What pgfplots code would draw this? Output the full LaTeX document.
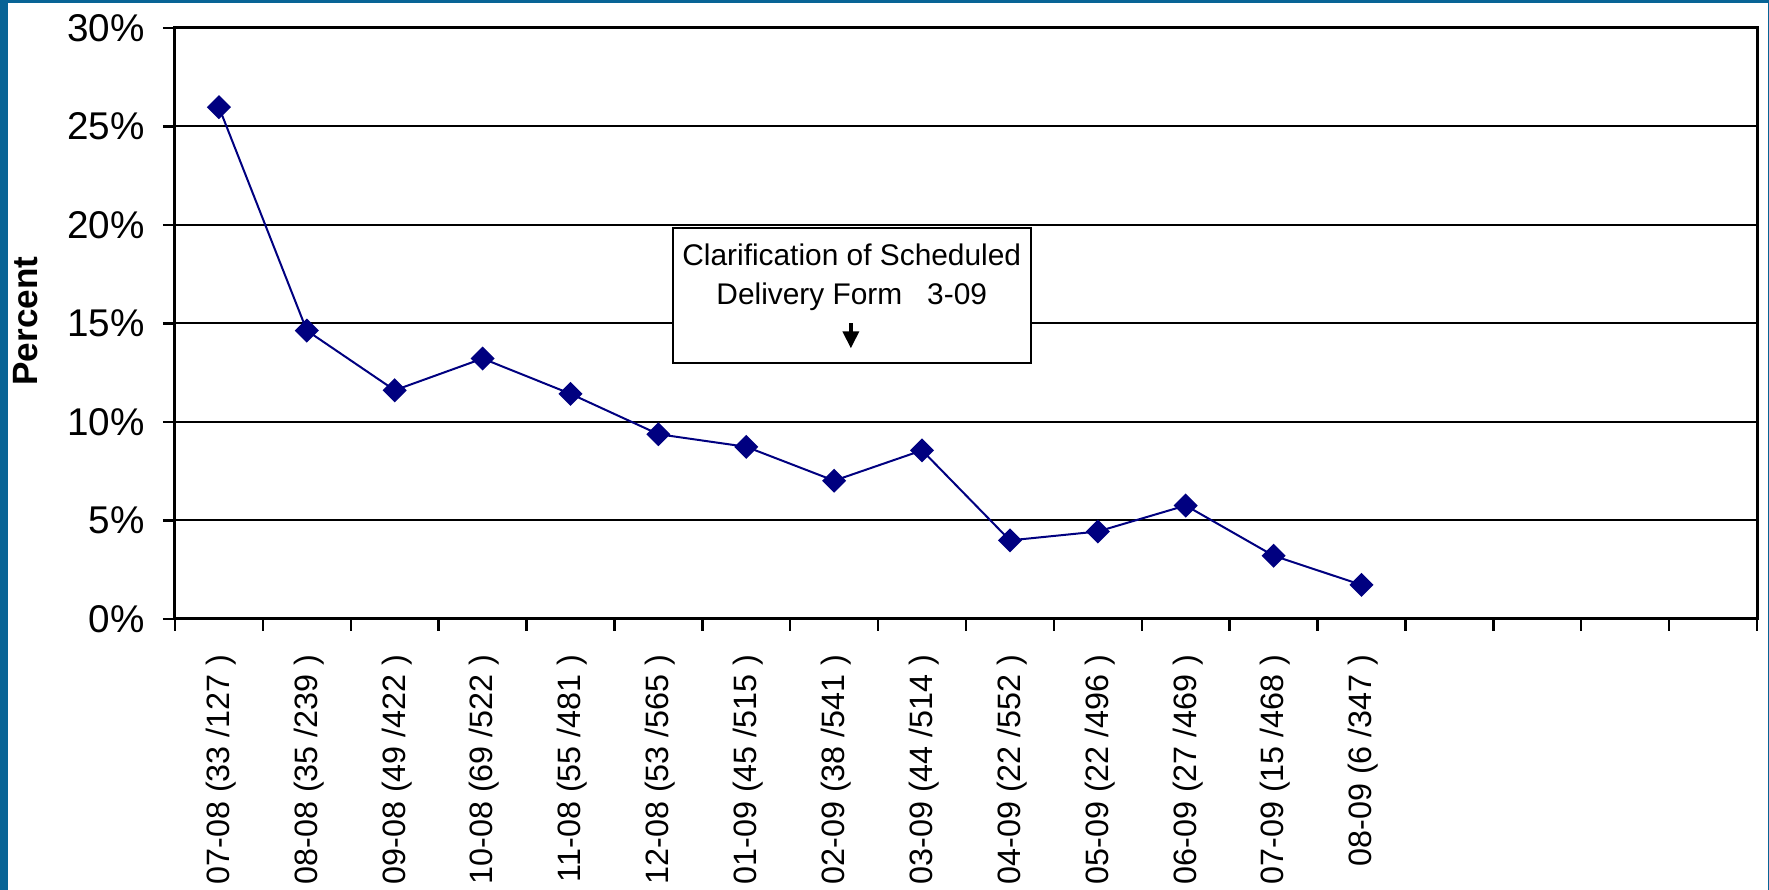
\documentclass[border=0pt]{standalone}
\usepackage{pgfplots}
\pgfplotsset{compat=1.18}
\usepackage{fontspec}
\setmainfont{Liberation Sans}
\definecolor{frameblue}{RGB}{8,100,150}
\definecolor{navy}{RGB}{0,0,128}
\begin{document}
\begin{tikzpicture}[x=1mm,y=1mm]
\useasboundingbox (0,0) rectangle (176.9,89);
\fill[frameblue] (0,0) rectangle (176.9,89);
\fill[white] (0.8,0) rectangle (176.75,88.7);
\begin{axis}[
  at={(17.5mm,27.1mm)}, anchor=south west,
  scale only axis, width=158.2mm, height=59.1mm,
  xmin=-0.5, xmax=17.5, ymin=0, ymax=30,
  axis line style={line width=0.3mm, black},
  xtick={0,...,13},
  xticklabels={07-08 (33 /127 ),08-08 (35 /239 ),09-08 (49 /422 ),10-08 (69 /522 ),11-08 (55 /481 ),12-08 (53 /565 ),01-09 (45 /515 ),02-09 (38 /541 ),03-09 (44 /514 ),04-09 (22 /552 ),05-09 (22 /496 ),06-09 (27 /469 ),07-09 (15 /468 ),08-09 (6 /347 )},
  major x tick style={draw=none},
  minor xtick={-0.5,0.5,...,17.5},
  minor x tick style={line width=0.25mm, black},
  minor tick length=1.2mm,
  tick align=outside,
  xtick pos=bottom, ytick pos=left,
  xticklabel style={rotate=90, anchor=east, font=\fontsize{9.2}{10}\selectfont, xshift=-1.1mm, yshift=-0.2mm},
  ytick={0,5,...,30},
  yticklabel={\pgfmathprintnumber{\tick}\%},
  /pgf/number format/assume math mode=true,
  yticklabel style={font=\fontsize{11}{12}\selectfont, xshift=-0.6mm},
  major y tick style={line width=0.25mm, black},
  major tick length=1.2mm,
  ymajorgrids, grid style={line width=0.2mm, black},
  clip=false,
]
\addplot[navy, line width=0.2mm, mark=square*, mark size=0.75mm, mark options={fill=navy, draw=navy, rotate=45}]
  coordinates {(0,25.98) (1,14.64) (2,11.61) (3,13.22) (4,11.43) (5,9.38) (6,8.74) (7,7.02) (8,8.56) (9,3.99) (10,4.44) (11,5.76) (12,3.21) (13,1.73)};
\draw[black, line width=0.2mm, fill=white] (axis cs:5.165,19.85) rectangle (axis cs:9.238,12.99);
\node[font=\fontsize{8.5}{10}\selectfont, inner sep=0] at (axis cs:7.2,18.48) {Clarification of Scheduled};
\node[font=\fontsize{8.5}{10}\selectfont, inner sep=0] at (axis cs:7.2,16.35) {Delivery Form\ \ \ 3-09};
\draw[black, line width=0.45mm] (axis cs:7.19,15.0) -- (axis cs:7.19,14.3);
\fill[black] ([xshift=-0.85mm]axis cs:7.19,14.6) -- ([xshift=0.85mm]axis cs:7.19,14.6) -- (axis cs:7.19,13.75) -- cycle;
\end{axis}
\node[rotate=90, font=\bfseries\fontsize{10}{12}\selectfont, inner sep=0] at (2.6,56.9) {Percent};
\end{tikzpicture}
\end{document}
